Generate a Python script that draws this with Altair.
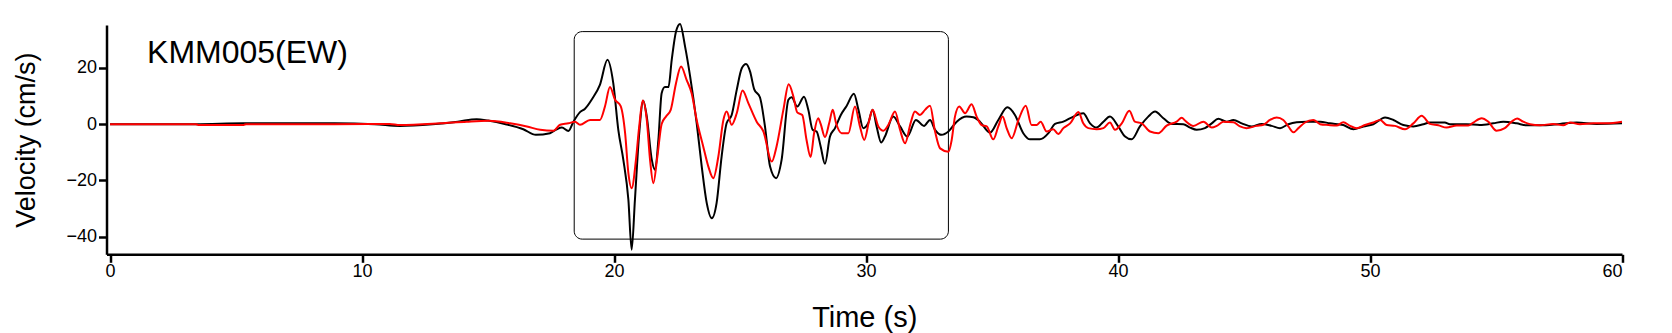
import altair as alt
import pandas as pd

# ---- data ----
black_t = [0.0, 3.4, 5.3, 8.9, 10.5, 11.5, 12.8, 13.8, 14.55, 15.0, 15.7, 16.4, 16.9, 17.46, 17.73, 17.93,
           18.19, 18.39, 18.65, 18.85, 19.11, 19.44, 19.74, 19.97, 20.17, 20.37, 20.57, 20.70, 20.83, 21.00,
           21.16, 21.30, 21.50, 21.63, 21.76, 21.89, 22.02, 22.16, 22.29, 22.46, 22.62, 22.82, 23.02, 23.28,
           23.48, 23.68, 23.88, 24.07, 24.27, 24.47, 24.67, 24.87, 25.07, 25.24, 25.40, 25.56, 25.79, 25.99,
           26.19, 26.43, 26.65, 26.92, 27.05, 27.27, 27.54, 27.71, 27.88, 28.04, 28.20, 28.37, 28.57, 28.77,
           29.00, 29.23, 29.52, 29.70, 29.89, 30.09, 30.26, 30.42, 30.60, 30.75, 31.08, 31.35, 31.64, 31.98,
           32.30, 32.54, 32.74, 33.00, 33.27, 33.60, 33.99, 34.26, 34.52, 34.92, 35.25, 35.61, 35.91, 36.24,
           36.51, 36.90, 37.24, 37.50, 37.83, 38.23, 38.62, 38.89, 39.15, 39.42, 39.68, 40.01, 40.28, 40.54,
           40.87, 41.20, 41.47, 41.80, 42.13, 42.59, 42.86, 43.12, 43.45, 43.72, 43.98, 44.31, 44.58, 44.91,
           45.30, 45.70, 46.10, 46.43, 46.76, 47.09, 47.49, 48.02, 48.41, 48.94, 49.34, 49.74, 50.13, 50.60,
           50.93, 51.32, 51.72, 52.12, 52.38, 52.97, 53.17, 53.83, 54.36, 54.89, 55.29, 55.82, 56.21, 56.74,
           57.54, 58.20, 58.99, 60.0]
black_v = [0.0, 0.0, 0.3, 0.3, 0.0, -0.6, 0.0, 0.9, 1.8, 1.3, 0.0, -1.8, -3.8, -3.2, -1.8, -1.2,
           -2.4, 0.9, 4.3, 5.5, 8.7, 14.0, 22.9, 14.6, -2.0, -12.7, -26.9, -44.7, -26.9, -3.2,
           8.3, 2.7, -12.7, -16.3, -5.6, 11.0, 13.2, 13.2, 22.9, 33.0, 35.7, 27.6, 17.0, 0.4,
           -15.0, -28.1, -33.5, -28.1, -11.5, 0.4, 3.3, 12.2, 19.9, 21.4, 18.7, 12.5, 9.6, -0.8,
           -15.0, -19.2, -12.7, 8.7, 9.6, 6.3, 9.8, 5.1, -2.0, -2.6, -7.9, -14.1, -4.4, -1.4,
           3.3, 6.5, 10.8, 5.1, -1.4, 0.4, 5.1, -0.8, -6.5, -4.4, 2.7, -0.8, -4.4, 1.5,
           -0.6, 1.5, -2.0, -3.8, -2.6, 0.9, 2.7, 2.5, 0.9, -3.0, 1.5, 6.0, 3.3, -3.2,
           -5.4, -5.4, -3.2, 0.1, 0.9, 2.7, 3.9, 0.3, -1.2, 0.9, 2.7, -0.8, -4.4, -5.4,
           -0.8, 2.7, 4.5, 2.1, 0.1, 0.0, -1.2, -2.0, -1.4, 0.3, 1.9, 0.9, 1.5, 0.3,
           -0.8, 0.1, -0.6, -1.4, 0.0, 0.7, 0.9, 0.9, 0.3, -0.3, -1.8, -0.8, 0.0, 2.4,
           1.5, -0.3, -0.8, 0.0, 0.6, 0.6, 0.0, 0.0, -0.3, 0.3, 0.9, 0.3, -0.4, -0.4,
           0.1, 0.6, 0.1, 0.3]

red_t = [0.0, 3.4, 3.5, 5.3, 5.4, 8.9, 11.1, 11.5, 13.1, 14.16, 15.02, 15.88, 16.54, 17.07, 17.60, 17.86,
         18.19, 18.45, 18.65, 19.05, 19.44, 19.64, 19.84, 20.04, 20.26, 20.44, 20.57, 20.70, 20.87, 21.00,
         21.14, 21.30, 21.43, 21.56, 21.72, 21.89, 22.06, 22.25, 22.46, 22.66, 22.88, 23.08, 23.28, 23.54,
         23.74, 23.94, 24.14, 24.34, 24.47, 24.67, 24.87, 25.10, 25.33, 25.66, 25.93, 26.26, 26.45, 26.72,
         26.93, 27.12, 27.27, 27.47, 27.64, 27.80, 27.94, 28.10, 28.20, 28.37, 28.54, 28.68, 28.81, 29.03,
         29.30, 29.56, 29.76, 29.93, 30.13, 30.26, 30.49, 30.69, 30.89, 31.15, 31.35, 31.55, 31.77, 31.94,
         32.14, 32.34, 32.54, 32.74, 32.94, 33.27, 33.40, 33.53, 33.70, 33.93, 34.19, 34.39, 34.59, 34.79,
         35.05, 35.25, 35.42, 35.58, 35.78, 36.05, 36.34, 36.57, 36.77, 36.93, 37.17, 37.43, 37.63, 37.83,
         38.10, 38.43, 38.62, 38.82, 39.15, 39.42, 39.68, 39.88, 40.15, 40.45, 40.67, 40.94, 41.27, 41.60,
         41.93, 42.33, 42.53, 42.66, 42.99, 43.39, 43.72, 43.92, 44.18, 44.58, 44.84, 45.10, 45.50, 45.77,
         46.03, 46.30, 46.56, 46.76, 46.96, 47.16, 47.42, 47.75, 48.02, 48.35, 48.68, 48.94, 49.21, 49.47,
         49.80, 50.13, 50.40, 50.66, 50.99, 51.39, 51.72, 52.05, 52.38, 52.71, 53.04, 53.44, 53.90, 54.10,
         54.43, 54.69, 55.02, 55.35, 55.62, 55.84, 56.08, 56.35, 56.74, 57.27, 57.67, 57.93, 58.33, 58.86,
         59.39, 60.0]
red_v = [0.0, 0.0, -0.25, -0.25, 0.0, 0.0, 0.1, -0.3, 0.3, 0.9, 1.2, 0.3, -0.8, -2.0, -2.3, -0.2,
         0.3, 0.9, -0.2, 1.5, 1.5, 6.3, 13.2, 8.7, 6.5, -3.2, -17.4, -22.8, -12.7, -0.8,
         8.4, 1.5, -12.7, -21.0, -11.5, 0.1, 2.7, 5.1, 14.6, 20.5, 15.8, 11.0, 1.5, -7.9,
         -15.0, -19.2, -11.5, 1.5, 4.5, -0.2, 3.9, 12.0, 7.5, 0.9, -2.6, -13.3, -7.9, 5.1,
         14.2, 9.8, 4.2, 3.3, -5.6, -11.7, -3.2, 2.1, 0.1, -4.6, 0.4, 5.1, 0.4, -3.2,
         -3.2, 6.3, -0.8, -5.6, 1.5, 5.1, -0.8, -2.3, -0.2, 4.5, -2.0, -6.8, 0.4, 4.5,
         3.3, 5.1, 6.6, -2.6, -8.6, -9.8, -5.6, 2.7, 6.3, 3.9, 7.1, 2.7, -0.3, -0.8,
         -5.4, -0.8, 2.7, -1.4, -5.0, 1.5, 6.6, -0.3, -0.3, 0.9, -2.6, -1.8, -3.5, -1.4,
         0.3, 4.3, 0.3, -1.4, -1.8, -1.4, 0.6, -2.0, 0.3, 4.8, 0.9, 0.3, -2.6, -3.2,
         -0.5, 0.9, 2.3, 1.3, -0.6, 0.9, -1.2, -0.6, 0.9, 0.7, -0.8, -1.4, -0.6, -0.2,
         1.5, 2.4, 1.5, -0.8, -2.9, -1.4, 0.6, 1.5, 0.0, -0.3, -0.5, 0.7, -0.6, -1.4,
         -0.3, 0.6, 1.5, -0.3, -0.6, -1.8, 0.3, 3.0, 0.1, -0.4, -1.2, -0.5, -0.5, 0.6,
         2.1, 0.9, -2.3, -1.4, 0.9, 2.0, 0.9, 0.0, -0.4, 0.1, -0.4, 0.6, 0.0, 0.3,
         0.3, 0.9]

x_ticks = [0, 10, 20, 30, 40, 50, 60]
y_ticks = [-40, -20, 0, 20]
box_t = [18.42, 33.27]
box_v = [-40.9, 32.95]
label_text = ["KMM005(EW)"]
label_t = [1.47]
label_v = [25.4]

FONT = "Liberation Sans"

xscale = alt.Scale(domain=[-0.14, 60], nice=False, zero=False)
yscale = alt.Scale(domain=[-46.3, 35.3], nice=False, zero=False)

xaxis = alt.Axis(values=x_ticks, title="Time (s)", grid=False,
                 domainColor="black", domainWidth=2.5, tickColor="black", tickWidth=2.5, tickSize=8,
                 labelFont=FONT, labelFontSize=18, labelColor="black", labelPadding=0,
                 titleFont=FONT, titleFontSize=29, titleFontWeight="normal", titleColor="black",
                 titlePadding=23)
yaxis = alt.Axis(values=y_ticks, title="Velocity (cm/s)", grid=False,
                 domainColor="black", domainWidth=2.5, tickColor="black", tickWidth=2.5, tickSize=8,
                 labelFont=FONT, labelFontSize=18, labelColor="black", labelPadding=2,
                 titleFont=FONT, titleFontSize=27, titleFontWeight="normal", titleColor="black",
                 titlePadding=25)

black_df = pd.DataFrame({"t": black_t, "v": black_v})
red_df = pd.DataFrame({"t": red_t, "v": red_v})
box_df = pd.DataFrame({"t1": [box_t[0]], "t2": [box_t[1]], "v1": [box_v[0]], "v2": [box_v[1]]})
label_df = pd.DataFrame({"t": label_t, "v": label_v, "text": label_text})

black_line = alt.Chart(black_df).mark_line(color="black", strokeWidth=2, interpolate="monotone").encode(
    x=alt.X("t:Q", scale=xscale, axis=xaxis),
    y=alt.Y("v:Q", scale=yscale, axis=yaxis),
)
red_line = alt.Chart(red_df).mark_line(color="#ff0000", strokeWidth=2, interpolate="monotone").encode(
    x=alt.X("t:Q", scale=xscale),
    y=alt.Y("v:Q", scale=yscale),
)
box = alt.Chart(box_df).mark_rect(fillOpacity=0, stroke="black", strokeWidth=1, cornerRadius=8).encode(
    x=alt.X("t1:Q", scale=xscale), x2="t2:Q",
    y=alt.Y("v1:Q", scale=yscale), y2="v2:Q",
)
label = alt.Chart(label_df).mark_text(align="left", baseline="middle", font=FONT, fontSize=32,
                                      color="black").encode(
    x=alt.X("t:Q", scale=xscale),
    y=alt.Y("v:Q", scale=yscale),
    text="text:N",
)

chart = alt.layer(box, black_line, red_line, label).properties(
    width=1515.5, height=229.3,
    autosize=alt.AutoSizeParams(type="none"),
    padding={"left": 98.5, "top": 17, "right": 40, "bottom": 80},
    background="white",
).configure_view(strokeWidth=0)

chart.save("out.html", embed_options={"renderer": "svg", "actions": False})
